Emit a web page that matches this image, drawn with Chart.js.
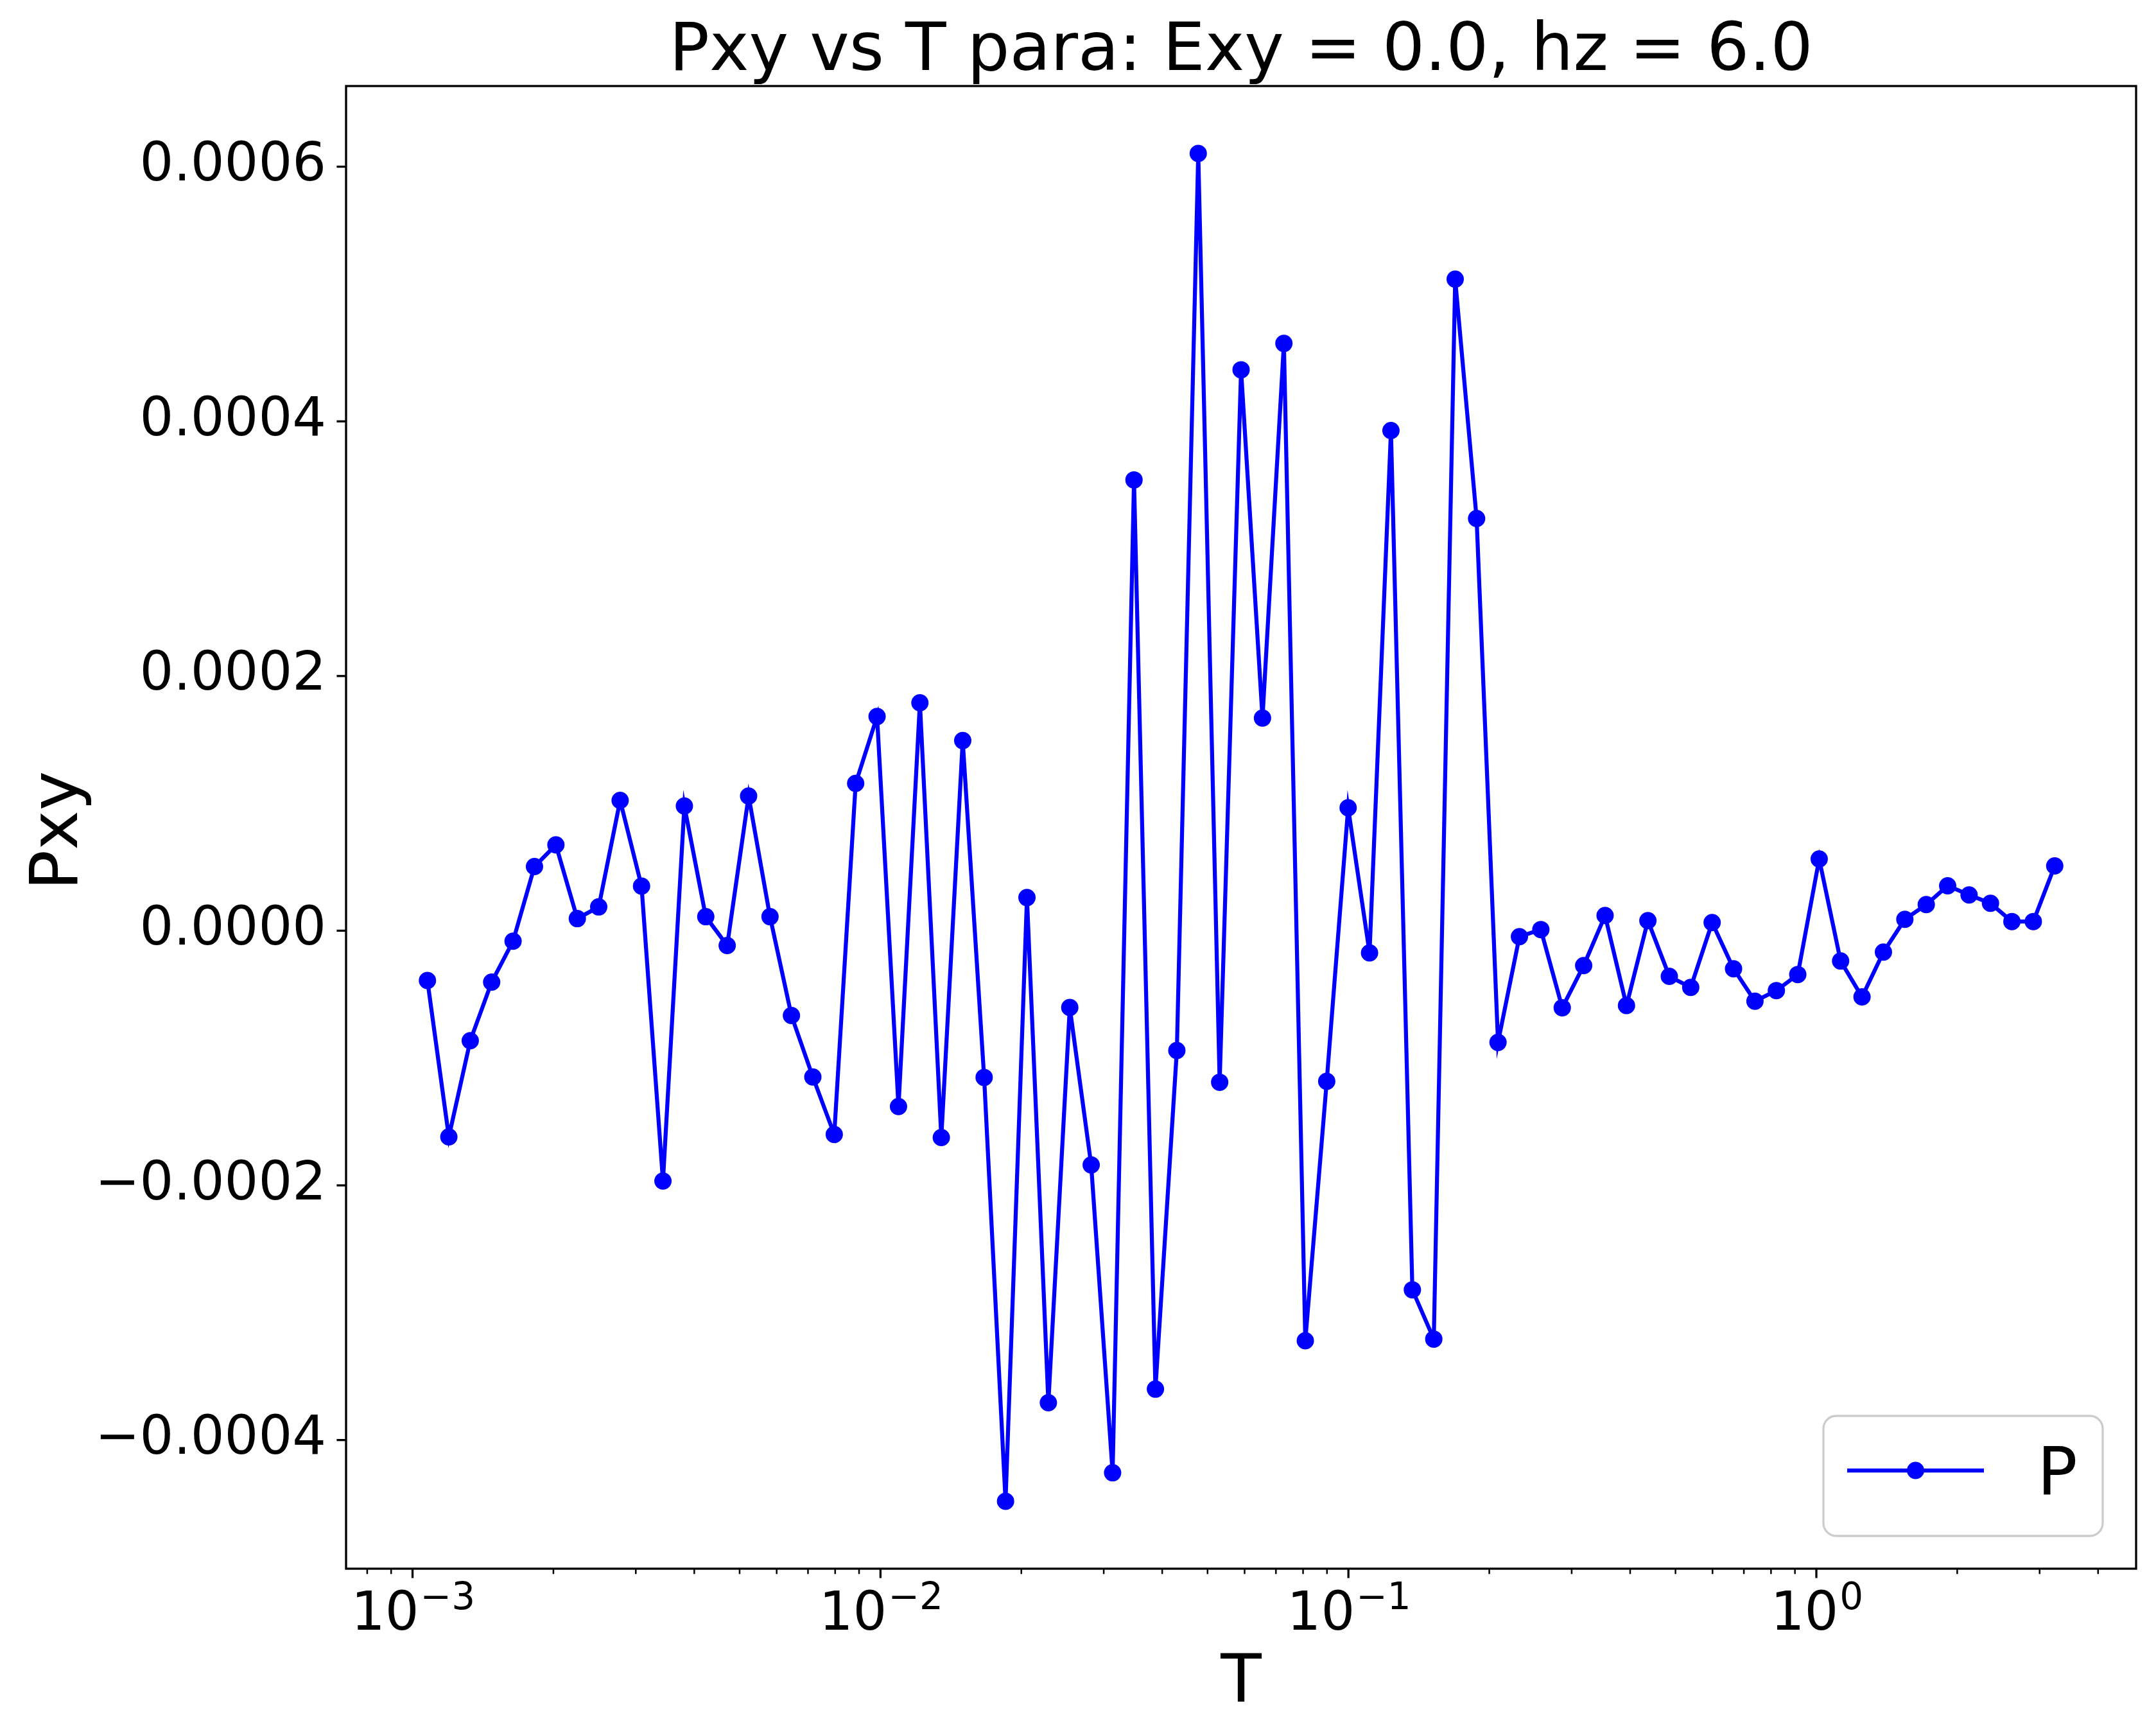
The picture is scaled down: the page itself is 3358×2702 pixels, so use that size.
<!DOCTYPE html>
<html>
<head>
<meta charset="utf-8">
<title>Pxy vs T</title>
<script src="https://cdn.jsdelivr.net/npm/chart.js@4.4.1/dist/chart.umd.min.js"></script>
<style>
  html, body { margin: 0; padding: 0; background: #fff; }
  canvas { display: block; }
</style>
</head>
<body>
<canvas id="myChart" width="3358" height="2702" style="width:3358px;height:2702px"></canvas>
<script>
// データ
const temps = [
  0.001076, 0.0011956, 0.0013284, 0.001476, 0.00164, 0.0018222, 0.0020247, 0.0022497, 0.0024996, 0.0027774,
  0.003086, 0.0034289, 0.0038099, 0.0042332, 0.0047036, 0.0052262, 0.0058069, 0.0064521, 0.007169, 0.0079656,
  0.0088507, 0.0098341, 0.010927, 0.012141, 0.01349, 0.014989, 0.016654, 0.018505, 0.020561, 0.022845,
  0.025384, 0.028204, 0.031338, 0.03482, 0.038689, 0.042988, 0.047764, 0.053071, 0.058968, 0.06552,
  0.0728, 0.080889, 0.089877, 0.099863, 0.11096, 0.12329, 0.13699, 0.15221, 0.16912, 0.18791,
  0.20879, 0.23199, 0.25777, 0.28641, 0.31823, 0.35359, 0.39288, 0.43653, 0.48504, 0.53893,
  0.59881, 0.66535, 0.73928, 0.82142, 0.91269, 1.0141, 1.1268, 1.252, 1.3911, 1.5457,
  1.7174, 1.9082, 2.1203, 2.3559, 2.6176, 2.9085, 3.2317
];
const pxy = [
  -3.91e-5, -1.619e-4, -8.64e-5, -4.04e-5, -8.2e-6, 5.04e-5, 6.74e-5, 9.5e-6, 1.87e-5, 1.023e-4,
  3.5e-5, -1.966e-4, 9.79e-5, 1.1e-5, -1.16e-5, 1.057e-4, 1.1e-5, -6.66e-5, -1.149e-4, -1.6e-4,
  1.157e-4, 1.682e-4, -1.381e-4, 1.79e-4, -1.624e-4, 1.493e-4, -1.152e-4, -4.481e-4, 2.6e-5, -3.707e-4,
  -6.03e-5, -1.84e-4, -4.257e-4, 3.54e-4, -3.6e-4, -9.41e-5, 6.104e-4, -1.19e-4, 4.405e-4, 1.67e-4,
  4.612e-4, -3.22e-4, -1.183e-4, 9.65e-5, -1.74e-5, 3.928e-4, -2.82e-4, -3.207e-4, 5.117e-4, 3.237e-4,
  -8.77e-5, -4.7e-6, 9e-7, -6.05e-5, -2.74e-5, 1.19e-5, -5.88e-5, 7.9e-6, -3.58e-5, -4.45e-5,
  6.4e-6, -2.99e-5, -5.54e-5, -4.7e-5, -3.44e-5, 5.63e-5, -2.38e-5, -5.2e-5, -1.68e-5, 8.9e-6,
  2.05e-5, 3.53e-5, 2.81e-5, 2.15e-5, 7.2e-6, 7.2e-6, 5.09e-5
];
const yTicks = [-0.0004, -0.0002, 0, 0.0002, 0.0004, 0.0006];
const seriesLabel = 'P';
const titleText = 'Pxy vs T para: Exy = 0.0, hz = 6.0';
const xLabel = 'T';
const yLabel = 'Pxy';

const FONT = "'DejaVu Sans', sans-serif";
const BLUE = '#0000ff';

// matplotlib風の余白 (5%)
const lmin = Math.log10(Math.min(...temps)), lmax = Math.log10(Math.max(...temps));
const xMin = Math.pow(10, lmin - 0.05 * (lmax - lmin));
const xMax = Math.pow(10, lmax + 0.05 * (lmax - lmin));
const ymin = Math.min(...pxy), ymax = Math.max(...pxy);
const yMin = ymin - 0.05 * (ymax - ymin);
const yMax = ymax + 0.05 * (ymax - ymin);

// 枠・目盛り・タイトル・凡例
const decorations = {
  id: 'decorations',
  beforeDraw(chart) {
    const c = chart.ctx;
    c.save();
    c.fillStyle = '#fff';
    c.fillRect(0, 0, chart.width, chart.height);
    c.restore();
  },
  afterDraw(chart) {
    const c = chart.ctx;
    const a = chart.chartArea;
    const xs = chart.scales.x, ys = chart.scales.y;
    c.save();
    c.strokeStyle = '#000';
    c.fillStyle = '#000';
    // x 目盛り + 10^n ラベル
    xs.ticks.forEach(t => {
      const px = xs.getPixelForValue(t.value);
      c.lineWidth = t.major ? 3.3 : 2.5;
      c.beginPath();
      c.moveTo(px, a.bottom);
      c.lineTo(px, a.bottom + (t.major ? 14.6 : 8.3));
      c.stroke();
      if (t.major) {
        const e = Math.round(Math.log10(t.value));
        const expText = (e < 0 ? '\u2212' : '') + Math.abs(e);
        c.font = '83px ' + FONT;
        const w1 = c.measureText('10').width;
        c.font = '58px ' + FONT;
        const w2 = c.measureText(expText).width;
        const x0 = px - (w1 + w2) / 2;
        c.textAlign = 'left';
        c.textBaseline = 'alphabetic';
        c.font = '83px ' + FONT;
        c.fillText('10', x0, 2538);
        c.font = '58px ' + FONT;
        c.fillText(expText, x0 + w1 + 2, 2506);
      }
    });
    // y 目盛り
    ys.ticks.forEach(t => {
      const py = ys.getPixelForValue(t.value);
      c.lineWidth = 3.3;
      c.beginPath();
      c.moveTo(a.left, py);
      c.lineTo(a.left - 14.6, py);
      c.stroke();
    });
    // 枠
    c.lineWidth = 3.3;
    c.strokeRect(a.left, a.top, a.right - a.left, a.bottom - a.top);

    // タイトル、軸ラベル
    const cx = (a.left + a.right) / 2;
    c.font = '104px ' + FONT;
    c.textAlign = 'center';
    c.textBaseline = 'alphabetic';
    c.fillText(titleText, cx, 109);
    c.fillText(xLabel, cx, 2650);
    c.save();
    c.translate(120, (a.top + a.bottom) / 2 + 5);
    c.rotate(-Math.PI / 2);
    c.fillText(yLabel, 0, 0);
    c.restore();

    // 凡例
    const ds = chart.data.datasets[0];
    const bw = 435, bh = 187;
    const bx = a.right - 52 - bw, by = a.bottom - 51 - bh;
    c.beginPath();
    c.roundRect(bx, by, bw, bh, 20);
    c.fillStyle = 'rgba(255,255,255,0.8)';
    c.fill();
    c.strokeStyle = '#cccccc';
    c.lineWidth = 3.3;
    c.stroke();
    const ly = by + 85;
    const lx0 = bx + 37, lx1 = bx + 250;
    c.strokeStyle = ds.borderColor;
    c.lineWidth = ds.borderWidth;
    c.beginPath();
    c.moveTo(lx0, ly);
    c.lineTo(lx1, ly);
    c.stroke();
    c.fillStyle = ds.pointBackgroundColor;
    c.beginPath();
    c.arc((lx0 + lx1) / 2, ly, 13.5, 0, Math.PI * 2);
    c.fill();
    c.fillStyle = '#000';
    c.textAlign = 'left';
    c.fillText(ds.label, bx + 333, by + 122);
    c.restore();
  }
};

const ctx = document.getElementById('myChart').getContext('2d');
new Chart(ctx, {
  type: 'line',
  data: {
    datasets: [{
      label: seriesLabel,
      data: temps.map((t, i) => ({x: t, y: pxy[i]})),
      borderColor: BLUE,
      backgroundColor: BLUE,
      pointBackgroundColor: BLUE,
      pointBorderColor: BLUE,
      borderWidth: 6.25,
      pointRadius: 12,
      pointBorderWidth: 3,
      pointStyle: 'circle',
      tension: 0,
      fill: false,
    }]
  },
  options: {
    responsive: false,
    animation: false,
    devicePixelRatio: 1,
    layout: {
      padding: {top: 134, right: 31, left: 0, bottom: 0}
    },
    scales: {
      x: {
        type: 'logarithmic',
        min: xMin,
        max: xMax,
        grid: {display: false, drawTicks: false},
        border: {display: false},
        afterBuildTicks(axis) {
          const list = [];
          for (let e = -4; e <= 1; e++) {
            for (let d = 1; d <= 9; d++) {
              const v = d * Math.pow(10, e);
              if (v >= xMin && v <= xMax) list.push({value: v, major: d === 1});
            }
          }
          axis.ticks = list;
        },
        afterFit(axis) { axis.height = 259; },
        ticks: {
          display: false,
          autoSkip: false,
          maxRotation: 0
        }
      },
      y: {
        type: 'linear',
        min: yMin,
        max: yMax,
        grid: {display: false, drawTicks: false},
        border: {display: false},
        afterBuildTicks(axis) {
          axis.ticks = yTicks.map(v => ({value: v}));
        },
        afterFit(axis) { axis.width = 539; },
        ticks: {
          padding: 31,
          color: '#000',
          font: {family: FONT, size: 83},
          callback: function(value) {
            if (Math.abs(value) < 1e-12) return '0.0000';
            return (value < 0 ? '\u2212' : '') + Math.abs(value).toFixed(4);
          }
        }
      }
    },
    plugins: {
      legend: {display: false},
      title: {display: false},
      tooltip: {enabled: false}
    }
  },
  plugins: [decorations]
});
</script>
</body>
</html>
